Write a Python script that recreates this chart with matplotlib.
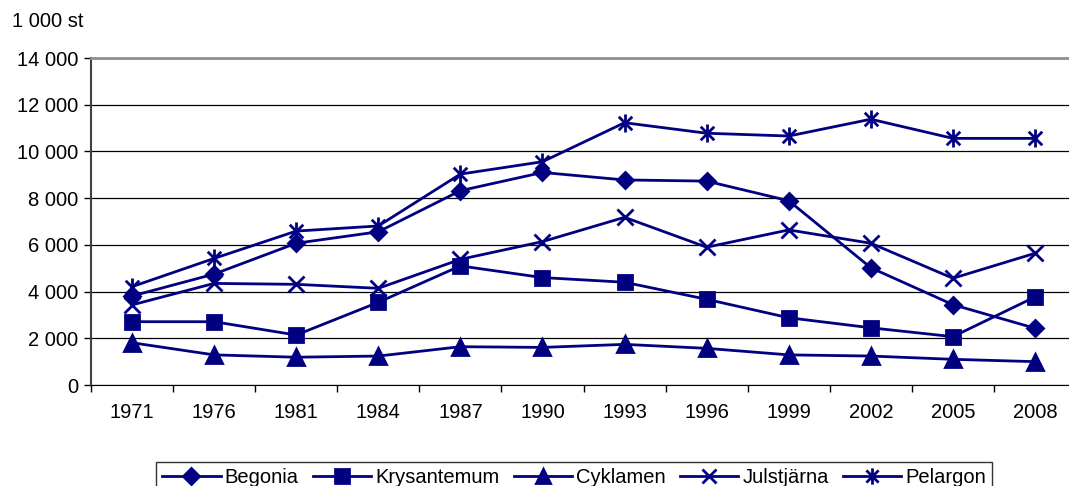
import numpy as np
import matplotlib.pyplot as plt
from matplotlib.path import Path

plt.rcParams['font.family'] = ['Liberation Sans', 'DejaVu Sans']

years = ['1971', '1976', '1981', '1984', '1987', '1990', '1993', '1996', '1999', '2002', '2005', '2008']

begonia = [3810, 4750, 6070, 6560, 8320, 9100, 8780, 8730, 7890, 5020, 3440, 2430]
krysantemum = [2710, 2710, 2140, 3540, 5100, 4600, 4400, 3670, 2880, 2450, 2070, 3770]
cyklamen = [1810, 1290, 1190, 1240, 1640, 1610, 1740, 1570, 1290, 1240, 1100, 1000]
julstjarna = [3430, 4350, 4310, 4140, 5380, 6140, 7180, 5900, 6640, 6070, 4570, 5640]
pelargon = [4210, 5420, 6590, 6810, 9030, 9560, 11230, 10780, 10660, 11380, 10560, 10560]

series = [
    ('Begonia', begonia),
    ('Krysantemum', krysantemum),
    ('Cyklamen', cyklamen),
    ('Julstjärna', julstjarna),
    ('Pelargon', pelargon),
]

# Excel style asterisk: vertical bar plus an X
asterisk = Path([(0, -1), (0, 1), (-0.75, -0.75), (0.75, 0.75), (-0.75, 0.75), (0.75, -0.75)],
                [Path.MOVETO, Path.LINETO, Path.MOVETO, Path.LINETO, Path.MOVETO, Path.LINETO])

markers = {
    'Begonia': ('D', 8.5),
    'Krysantemum': ('s', 10.5),
    'Cyklamen': ('^', 11),
    'Julstjärna': ('x', 11),
    'Pelargon': (asterisk, 13),
}

navy = '#000080'

fig = plt.figure(figsize=(10.69, 4.86), dpi=100)
ax = fig.add_axes([0.0851, 0.2078, 0.9215, 0.6728])

x = np.arange(len(years))
for name, vals in series:
    m, ms = markers[name]
    ax.plot(x, vals, color=navy, lw=2, marker=m, markersize=ms,
            markerfacecolor=navy, markeredgecolor=navy, markeredgewidth=2,
            label=name, zorder=3)

ax.set_xlim(-0.5, len(years) - 0.5)
ax.set_ylim(0, 14000)
ax.set_yticks(np.arange(0, 14001, 2000))
ax.set_yticklabels([f'{v:,}'.replace(',', ' ') for v in range(0, 14001, 2000)])
ax.set_xticks(x)
ax.set_xticklabels(years)
ax.set_xticks(np.arange(-0.5, len(years), 1), minor=True)
ax.tick_params(axis='x', which='major', length=0, pad=13, labelsize=14.5)
ax.tick_params(axis='x', which='minor', length=5, width=1, color='black')
ax.tick_params(axis='y', length=5, width=1, labelsize=14.5, pad=4)

ax.grid(axis='y', color='black', lw=0.9, zorder=0)
ax.spines['right'].set_visible(False)
ax.spines['top'].set_color('#909090')
ax.spines['top'].set_linewidth(2)
ax.spines['left'].set_color('#404040')
ax.spines['left'].set_linewidth(1.5)
ax.spines['bottom'].set_color('black')

fig.text(0.011, 0.955, '1 000 st', fontsize=14.5, va='center', ha='left')

leg = fig.legend(loc='lower center', bbox_to_anchor=(0.537, -0.035), ncol=5,
                 frameon=True, fancybox=False, edgecolor='black', fontsize=14.5,
                 handlelength=2.9, handletextpad=0.2, columnspacing=0.7,
                 borderpad=0.3, markerscale=0.9)
leg.get_frame().set_linewidth(1.0)

fig.savefig('out.png', dpi=100)
